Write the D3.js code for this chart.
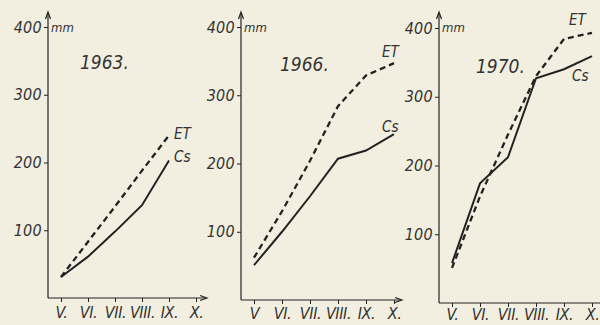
<!DOCTYPE html>
<html>
<head>
<meta charset="utf-8">
<script src="https://cdn.jsdelivr.net/npm/d3@7"></script>
<style>
  html, body { margin: 0; padding: 0; background: #f3efe0; }
  svg { display: block; }
  text { font-family: "DejaVu Sans Condensed", "DejaVu Sans", sans-serif; font-style: italic; fill: #333; }
</style>
</head>
<body>
<div id="chart"></div>
<script>
/* Data (mm) */
const years = ["1963.", "1966.", "1970."];
const months = ["V.", "VI.", "VII.", "VIII.", "IX.", "X."];
const monthLabels1963 = ["V.", "VI.", "VII.", "VIII.", "IX.", "X."];
const monthLabels1966 = ["V", "VI.", "VII.", "VIII.", "IX.", "X."];
const monthLabels1970 = ["V.", "VI.", "VII.", "VIII.", "IX.", "X."];
const yTicks = [100, 200, 300, 400];

const et1963 = [31, 83, 135, 188, 240];
const cs1963 = [31, 61, 98, 137, 203];
const et1966 = [62, 130, 204, 284, 329, 347];
const cs1966 = [51, 100, 152, 207, 219, 243];
const et1970 = [51, 155, 245, 330, 384, 393];
const cs1970 = [58, 174, 212, 327, 340, 359];

const width = 600, height = 325;
const ink = "#222";

const svg = d3.select("#chart")
  .append("svg")
  .attr("width", width)
  .attr("height", height);

/* One small panel per year */
const createPanel = (opt) => {
  const g = svg.append("g");

  const xScale = d3.scalePoint()
    .domain(months)
    .range([opt.left + 13, opt.left + 13 + 5 * opt.step]);

  const yScale = d3.scaleLinear()
    .domain([0, 400])
    .range([opt.bottom, opt.top]);

  // axis lines with arrow heads
  g.append("line")
    .attr("x1", opt.left).attr("x2", opt.left)
    .attr("y1", opt.bottom).attr("y2", 13)
    .attr("stroke", ink).attr("stroke-width", 1.2);
  g.append("path")
    .attr("d", `M${opt.left - 2.5},19 L${opt.left},12 L${opt.left + 2.5},19`)
    .attr("fill", "none").attr("stroke", ink).attr("stroke-width", 1.2);

  const xEnd = opt.left + opt.axisLen;
  g.append("line")
    .attr("x1", opt.left).attr("x2", xEnd)
    .attr("y1", opt.bottom).attr("y2", opt.bottom)
    .attr("stroke", ink).attr("stroke-width", 1.2);
  g.append("path")
    .attr("d", `M${xEnd - 6},${opt.bottom - 2.5} L${xEnd + 1},${opt.bottom} L${xEnd - 6},${opt.bottom + 2.5}`)
    .attr("fill", "none").attr("stroke", ink).attr("stroke-width", 1.2);

  // y axis ticks
  const yAxis = d3.axisLeft(yScale)
    .tickValues(yTicks)
    .tickSize(4)
    .tickPadding(2);
  g.append("g")
    .attr("transform", `translate(${opt.left}, 0)`)
    .call(yAxis)
    .call(a => a.select(".domain").remove())
    .call(a => a.selectAll("line").attr("stroke", ink))
    .call(a => a.selectAll("text")
      .attr("font-family", null)
      .style("font-size", "16px")
      .style("letter-spacing", "0.3px"));

  // x axis ticks, labels kept inside the bottom edge
  const xAxis = d3.axisBottom(xScale)
    .tickSize(4)
    .tickPadding(opt.pad)
    .tickFormat((d, i) => opt.labels[i]);
  g.append("g")
    .attr("transform", `translate(0, ${opt.bottom})`)
    .call(xAxis)
    .call(a => a.select(".domain").remove())
    .call(a => a.selectAll("line").attr("stroke", ink))
    .call(a => a.selectAll("text")
      .attr("font-family", null)
      .style("font-size", "16px")
      .style("letter-spacing", "-0.4px"));

  // lines
  const line = d3.line()
    .x((d, i) => xScale(months[i]))
    .y(d => yScale(d));

  g.append("path")
    .attr("d", line(opt.et))
    .attr("fill", "none")
    .attr("stroke", ink)
    .attr("stroke-width", 2.3)
    .attr("stroke-dasharray", "6,4");

  g.append("path")
    .attr("d", line(opt.cs))
    .attr("fill", "none")
    .attr("stroke", ink)
    .attr("stroke-width", 2);

  // series labels next to the ends
  const lastX = xScale(months[opt.et.length - 1]);
  g.append("text")
    .attr("x", lastX + opt.etDx)
    .attr("y", yScale(opt.et[opt.et.length - 1]) + opt.etDy)
    .style("font-size", "15px")
    .text("ET");
  g.append("text")
    .attr("x", lastX + opt.csDx)
    .attr("y", yScale(opt.cs[opt.cs.length - 1]) + opt.csDy)
    .style("font-size", "15px")
    .text("Cs");

  // unit and year
  g.append("text")
    .attr("x", opt.left + 3)
    .attr("y", 32)
    .style("font-size", "13px")
    .text("mm");
  g.append("text")
    .attr("x", opt.left + opt.yearDx)
    .attr("y", opt.yearY)
    .style("font-size", "19px")
    .text(opt.year);
};

createPanel({
  left: 48, top: 27, bottom: 298, step: 27, axisLen: 158, pad: 5,
  labels: monthLabels1963, et: et1963, cs: cs1963, year: years[0],
  etDx: 5, etDy: 4, csDx: 5, csDy: 2, yearDx: 32, yearY: 69
});

createPanel({
  left: 241, top: 27, bottom: 300, step: 28, axisLen: 160, pad: 4,
  labels: monthLabels1966, et: et1966, cs: cs1966, year: years[1],
  etDx: -12, etDy: -6, csDx: -12, csDy: -2, yearDx: 39, yearY: 71
});

createPanel({
  left: 439, top: 28, bottom: 303, step: 28, axisLen: 170, pad: 1.5,
  labels: monthLabels1970, et: et1970, cs: cs1970, year: years[2],
  etDx: -23, etDy: -8, csDx: -20, csDy: 25, yearDx: 37, yearY: 73
});
</script>
</body>
</html>
